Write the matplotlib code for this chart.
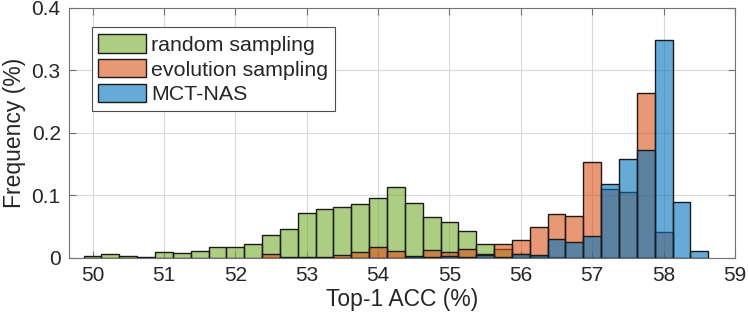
import matplotlib
matplotlib.use("Agg")
import matplotlib.pyplot as plt
from matplotlib.ticker import FuncFormatter

plt.rcParams['font.family'] = ['Liberation Sans', 'DejaVu Sans']

# bin centres (bin width 0.25) and frequencies (%)
bin_width = 0.25
random_centers = [50.0 + 0.25 * i for i in range(27)]
random_freq = [0.003, 0.006, 0.003, 0.001, 0.010, 0.008, 0.011, 0.018, 0.018,
               0.023, 0.036, 0.047, 0.072, 0.079, 0.082, 0.086, 0.096, 0.113,
               0.088, 0.066, 0.057, 0.043, 0.022, 0.015, 0.006, 0.003, 0.001]

evo_centers = [52.5 + 0.25 * i for i in range(23)]
evo_freq = [0.006, 0.002, 0.002, 0.002, 0.005, 0.009, 0.017, 0.011, 0.002,
            0.012, 0.010, 0.014, 0.007, 0.022, 0.029, 0.049, 0.071, 0.067,
            0.153, 0.111, 0.105, 0.264, 0.041]

mct_centers = [54.5 + 0.25 * i for i in range(17)]
mct_freq = [0.003, 0.001, 0.003, 0.002, 0.004, 0.002, 0.007, 0.005, 0.030,
            0.026, 0.035, 0.119, 0.158, 0.173, 0.348, 0.089, 0.011]

labels = ['random sampling', 'evolution sampling', 'MCT-NAS']
colors = [(0.466, 0.674, 0.188, 0.6), (0.85, 0.325, 0.098, 0.6), (0.0, 0.447, 0.741, 0.6)]

fig = plt.figure(figsize=(7.48, 3.22), dpi=100)
ax = fig.add_axes([0.0922, 0.1988, 0.8904, 0.7764])

for c, f, col, lab in zip([random_centers, evo_centers, mct_centers],
                          [random_freq, evo_freq, mct_freq], colors, labels):
    ax.bar(c, f, width=bin_width, facecolor=col, edgecolor='#1a1a1a',
           linewidth=1.0, label=lab, zorder=3)

ax.set_xlim(49.67, 59)
ax.set_ylim(0, 0.4)
ax.set_xticks(range(50, 60))
ax.set_yticks([0, 0.1, 0.2, 0.3, 0.4])
ax.yaxis.set_major_formatter(FuncFormatter(lambda v, p: '0' if v == 0 else f'{v:g}'))
ax.grid(True, color='0.85', linewidth=0.8, zorder=0)
ax.tick_params(direction='in', length=5, width=0.8, colors='0.45',
               labelcolor='#262626', labelsize=15, top=True, right=True, pad=6)
for s in ax.spines.values():
    s.set_color('0.45')
    s.set_linewidth(0.8)

ax.set_xlabel('Top-1 ACC (%)', fontsize=16.5, color='#262626', labelpad=2)
ax.set_ylabel('Frequency (%)', fontsize=16.5, color='#262626', labelpad=4)

leg = ax.legend(loc='upper left', bbox_to_anchor=(0.034, 0.923), borderaxespad=0,
                fontsize=15.4, handlelength=2.2, handleheight=0.95, handletextpad=0.25,
                labelspacing=0.2, borderpad=0.32, fancybox=False, framealpha=1,
                edgecolor='0.3')
leg.get_frame().set_linewidth(0.8)
for t in leg.get_texts():
    t.set_color('#262626')

fig.savefig('out.png', dpi=100)
